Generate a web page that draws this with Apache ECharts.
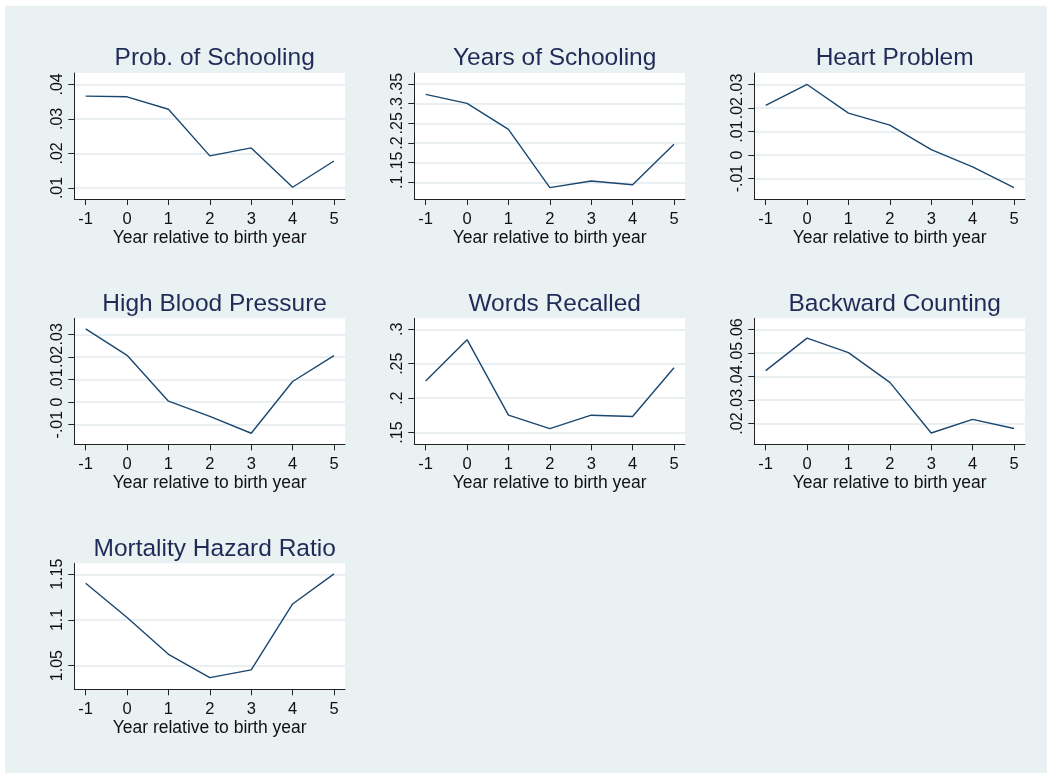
<!DOCTYPE html>
<html>
<head>
<meta charset="utf-8">
<script src="https://cdn.jsdelivr.net/npm/echarts@6/dist/echarts.min.js"></script>
<style>
  html, body { margin: 0; padding: 0; background: #fff; }
  #main { position: absolute; left: 5px; top: 6px; width: 1042px; height: 767px; }
</style>
</head>
<body>
<div id="main"></div>
<script>
// 横轴：相对出生年份
const years = [-1, 0, 1, 2, 3, 4, 5];

// 各面板数值
const probSchooling = [0.0366, 0.0364, 0.0328, 0.0193, 0.0216, 0.0102, 0.0178];
const yearsSchooling = [0.3237, 0.3008, 0.2347, 0.0864, 0.1034, 0.0940, 0.1966];
const heartProblem = [0.0212, 0.0301, 0.0179, 0.0128, 0.0023, -0.0050, -0.0138];
const highBloodPressure = [0.0324, 0.0207, 0.0004, -0.0063, -0.0138, 0.0091, 0.0206];
const wordsRecalled = [0.2248, 0.2850, 0.1753, 0.1558, 0.1753, 0.1734, 0.2442];
const backwardCounting = [0.0425, 0.0563, 0.0501, 0.0375, 0.0160, 0.0218, 0.0179];
const mortalityHazard = [1.1401, 1.1026, 1.0624, 1.0369, 1.0453, 1.1175, 1.1504];

// 纵轴刻度
const probTicks = [0.01, 0.02, 0.03, 0.04];
const yearsTicks = [0.1, 0.15, 0.2, 0.25, 0.3, 0.35];
const heartTicks = [-0.01, 0, 0.01, 0.02, 0.03];
const hbpTicks = [-0.01, 0, 0.01, 0.02, 0.03];
const wordsTicks = [0.15, 0.2, 0.25, 0.3];
const backTicks = [0.02, 0.03, 0.04, 0.05, 0.06];
const mortTicks = [1.05, 1.1, 1.15];

const titles = ['Prob. of Schooling', 'Years of Schooling', 'Heart Problem',
  'High Blood Pressure', 'Words Recalled', 'Backward Counting', 'Mortality Hazard Ratio'];

const panels = [
  { data: probSchooling, ticks: probTicks, min: 0.0068, max: 0.0433 },
  { data: yearsSchooling, ticks: yearsTicks, min: 0.0576, max: 0.378 },
  { data: heartProblem, ticks: heartTicks, min: -0.0187, max: 0.035 },
  { data: highBloodPressure, ticks: hbpTicks, min: -0.0187, max: 0.0371 },
  { data: wordsRecalled, ticks: wordsTicks, min: 0.133, max: 0.316 },
  { data: backwardCounting, ticks: backTicks, min: 0.0112, max: 0.0647 },
  { data: mortalityHazard, ticks: mortTicks, min: 1.0241, max: 1.162 }
];

const navy = '#1a476f';
const axisCol = '#222';
const font = 'Liberation Sans, Arial';
const colLeft = [69.3, 409.3, 749.3];
const rowTop = [67, 312.3, 557.3];
const plotW = 270.7, plotH = 126;

// Stata 风格的数字：去掉前导 0
function fmt(v) {
  let s = String(+v.toFixed(4));
  return s.replace(/^(-?)0\./, '$1.');
}

let grid = [], xAxis = [], yAxis = [], series = [], title = [];
panels.forEach(function (p, i) {
  const c = i % 3, r = Math.floor(i / 3);
  grid.push({
    left: colLeft[c], top: rowTop[r], width: plotW, height: plotH,
    show: true, backgroundColor: '#fff', borderWidth: 0
  });
  title.push({
    text: titles[i],
    left: colLeft[c] + plotW / 2, top: rowTop[r] - 32, textAlign: 'center',
    textStyle: { fontFamily: font, fontSize: 24.5, fontWeight: 'normal', color: '#1e2b57' }
  });
  xAxis.push({
    gridIndex: i, type: 'value', min: -1.275, max: 5.266,
    name: 'Year relative to birth year', nameLocation: 'middle', nameGap: 30,
    nameTextStyle: { fontFamily: font, fontSize: 17.5, color: '#111' },
    axisLine: { show: true, onZero: false, lineStyle: { color: axisCol, width: 1 } },
    axisTick: { show: true, length: 6, customValues: years, lineStyle: { color: axisCol } },
    axisLabel: { customValues: years, margin: 12, fontFamily: font, fontSize: 16.5, color: '#111' },
    splitLine: { show: false }
  });
  yAxis.push({
    gridIndex: i, type: 'value', min: p.min, max: p.max,
    axisLine: { show: true, onZero: false, lineStyle: { color: axisCol, width: 1 } },
    axisTick: { show: true, length: 6, customValues: p.ticks, lineStyle: { color: axisCol } },
    axisLabel: {
      customValues: p.ticks, rotate: 90, margin: 9,
      fontFamily: font, fontSize: 16, color: '#111',
      formatter: fmt
    },
    splitLine: { show: true, lineStyle: { color: '#e3ebee', width: 1.5 } }
  });
  series.push({
    type: 'line', xAxisIndex: i, yAxisIndex: i,
    data: years.map(function (y, k) { return [y, p.data[k]]; }),
    symbol: 'none', silent: true,
    lineStyle: { color: navy, width: 1.4 }
  });
});

const chart = echarts.init(document.getElementById('main'));
chart.setOption({
  backgroundColor: '#eaf1f3',
  animation: false,
  title: title,
  grid: grid,
  xAxis: xAxis,
  yAxis: yAxis,
  series: series
});
</script>
</body>
</html>
